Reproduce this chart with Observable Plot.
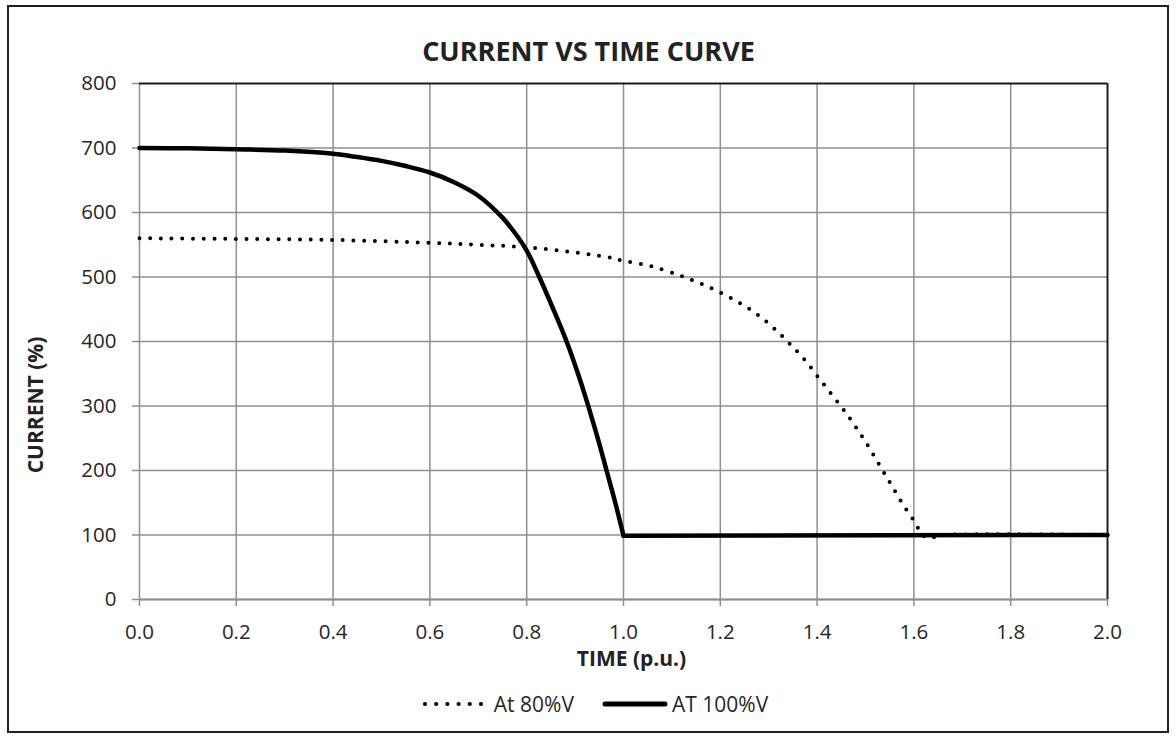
<!DOCTYPE html>
<html>
<head>
<meta charset="utf-8">
<script src="https://cdn.jsdelivr.net/npm/d3@7"></script>
<script src="https://cdn.jsdelivr.net/npm/@observablehq/plot@0.6"></script>
<style>
  html, body { margin: 0; padding: 0; background: #fff; }
  #wrap { position: relative; width: 1176px; height: 738px; overflow: hidden; font-family: "Open Sans", sans-serif; color: #262626; }
  #frame { position: absolute; left: 7px; top: 5px; width: 1162px; height: 728px; box-sizing: border-box; border: 2px solid #202020; pointer-events: none; }
  #chart { position: absolute; left: 0; top: 0; }
  #ylabel { position: absolute; left: 35px; top: 405px; transform: translate(-50%, -50%) rotate(-90deg); font-weight: bold; font-size: 21px; line-height: 1; white-space: nowrap; color: #222; }
  #legend { position: absolute; left: 0; top: 690px; width: 1176px; height: 28px; display: flex; justify-content: center; align-items: center; font-size: 21px; color: #262626; padding-left: 14px; box-sizing: border-box; }
  #legend .item { display: flex; align-items: center; }
  #legend svg { display: block; }
  [aria-label^="x-axis"] line, [aria-label^="y-axis"] line,
  [aria-label^="x-axis tick"] path, [aria-label^="y-axis tick"] path { stroke: #8f8f8f; stroke-width: 1.5px; }
</style>
</head>
<body>
<div id="wrap">
  <div id="chart"></div>
  <div id="ylabel"></div>
  <div id="legend"></div>
  <div id="frame"></div>
</div>
<script>
// ---- data ----
const chartTitle = "CURRENT VS TIME CURVE";
const xTitle = "TIME (p.u.)";
const yTitle = "CURRENT (%)";
const seriesNames = ["At 80%V", "AT 100%V"];

const xTicks = [0, 0.2, 0.4, 0.6, 0.8, 1.0, 1.2, 1.4, 1.6, 1.8, 2.0];
const yTicks = [0, 100, 200, 300, 400, 500, 600, 700, 800];

// At 80%V (dotted)
const time80 = [0, 0.2, 0.4, 0.6, 0.7, 0.8, 0.9, 0.966, 1.0, 1.056, 1.118, 1.159, 1.2, 1.242, 1.278, 1.313, 1.344, 1.375, 1.402, 1.43, 1.457, 1.483, 1.507, 1.53, 1.553, 1.576, 1.6, 1.612, 1.627, 1.648, 1.665, 2.0];
const current80 = [560, 559, 557.5, 553, 550, 546, 538, 531, 525, 517, 502, 490, 476, 459, 441, 419, 396, 371, 345, 318, 292, 264, 236, 207, 178, 149, 122, 107, 95, 98, 100, 100];

// AT 100%V (solid): falling part, then flat part
const time100Fall = [0, 0.1, 0.2, 0.3, 0.4, 0.45, 0.5, 0.55, 0.6, 0.65, 0.7, 0.75, 0.775, 0.8, 0.826, 0.855, 0.884, 0.906, 0.926, 0.946, 0.965, 0.983, 1.0];
const current100Fall = [700, 699.5, 698, 696, 691, 686, 680, 672, 662, 647, 626, 592, 569, 541, 500, 450, 397, 350, 303, 252, 200, 150, 99];
const time100Flat = [1.0, 2.0];
const current100Flat = [99, 100];

const rows80 = time80.map((t, i) => ({time: t, current: current80[i]}));
const rows100 = [
  ...time100Fall.map((t, i) => ({time: t, current: current100Fall[i], part: "fall"})),
  ...time100Flat.map((t, i) => ({time: t, current: current100Flat[i], part: "flat"}))
];

const W = 1176, H = 738;
const mL = 139, mR = 69, mT = 83, mB = 139;
const plotCenterX = (mL + (W - mR)) / 2;

const chart = Plot.plot({
  width: W,
  height: H,
  marginLeft: mL,
  marginRight: mR,
  marginTop: mT,
  marginBottom: mB,
  style: {fontFamily: "Open Sans, sans-serif", fontSize: "20.5px", color: "#262626", background: "transparent", overflow: "visible"},
  x: {domain: [0, 2], ticks: xTicks, tickFormat: d3.format(".1f"), tickSize: 7, tickPadding: 18, label: null},
  y: {domain: [0, 800], ticks: yTicks, tickFormat: d3.format("d"), tickSize: 7, tickPadding: 16, label: null},
  marks: [
    Plot.ruleX(xTicks, {stroke: "#8f8f8f", strokeWidth: 1.5}),
    Plot.ruleY(yTicks.filter(v => v < 800), {stroke: "#8f8f8f", strokeWidth: 1.5}),
    Plot.ruleY([800], {stroke: "#1a1a1a", strokeWidth: 1.8}),
    Plot.ruleX([2], {stroke: "#1a1a1a", strokeWidth: 1.8}),
    Plot.ruleY([0], {stroke: "#8f8f8f", strokeWidth: 1.8}),
    Plot.line(rows100, {x: "time", y: "current", z: "part", curve: "catmull-rom", stroke: "#000", strokeWidth: 4.5, strokeLinejoin: "round", strokeLinecap: "round"}),
    Plot.line(rows80, {x: "time", y: "current", curve: "catmull-rom", stroke: "#000", strokeWidth: 4, strokeLinecap: "round", strokeDasharray: "0 10.7"}),
    Plot.text([chartTitle], {text: d => d, frameAnchor: "top", lineAnchor: "middle", textAnchor: "middle", dx: 588 - plotCenterX, dy: 52 - mT, fontSize: 27, fontWeight: "bold", fill: "#222"}),
    Plot.text([xTitle], {text: d => d, frameAnchor: "bottom", lineAnchor: "middle", textAnchor: "middle", dx: 631 - plotCenterX, dy: 659 - (H - mB), fontSize: 21, fontWeight: "bold", fill: "#222"})
  ]
});
document.getElementById("chart").appendChild(chart);
document.getElementById("ylabel").textContent = yTitle;

// legend
const legend = d3.select("#legend");
const it1 = legend.append("div").attr("class", "item");
const s1 = it1.append("svg").attr("width", 62).attr("height", 20);
s1.append("line").attr("x1", 3).attr("x2", 59).attr("y1", 10).attr("y2", 10)
  .attr("stroke", "#000").attr("stroke-width", 4.2).attr("stroke-linecap", "round").attr("stroke-dasharray", "0 11.2");
it1.append("span").style("margin-left", "10px").text(seriesNames[0]);
const it2 = legend.append("div").attr("class", "item").style("margin-left", "28px");
const s2 = it2.append("svg").attr("width", 66).attr("height", 20);
s2.append("line").attr("x1", 3).attr("x2", 63).attr("y1", 10).attr("y2", 10)
  .attr("stroke", "#000").attr("stroke-width", 5).attr("stroke-linecap", "round");
it2.append("span").style("margin-left", "4px").text(seriesNames[1]);
</script>
</body>
</html>
